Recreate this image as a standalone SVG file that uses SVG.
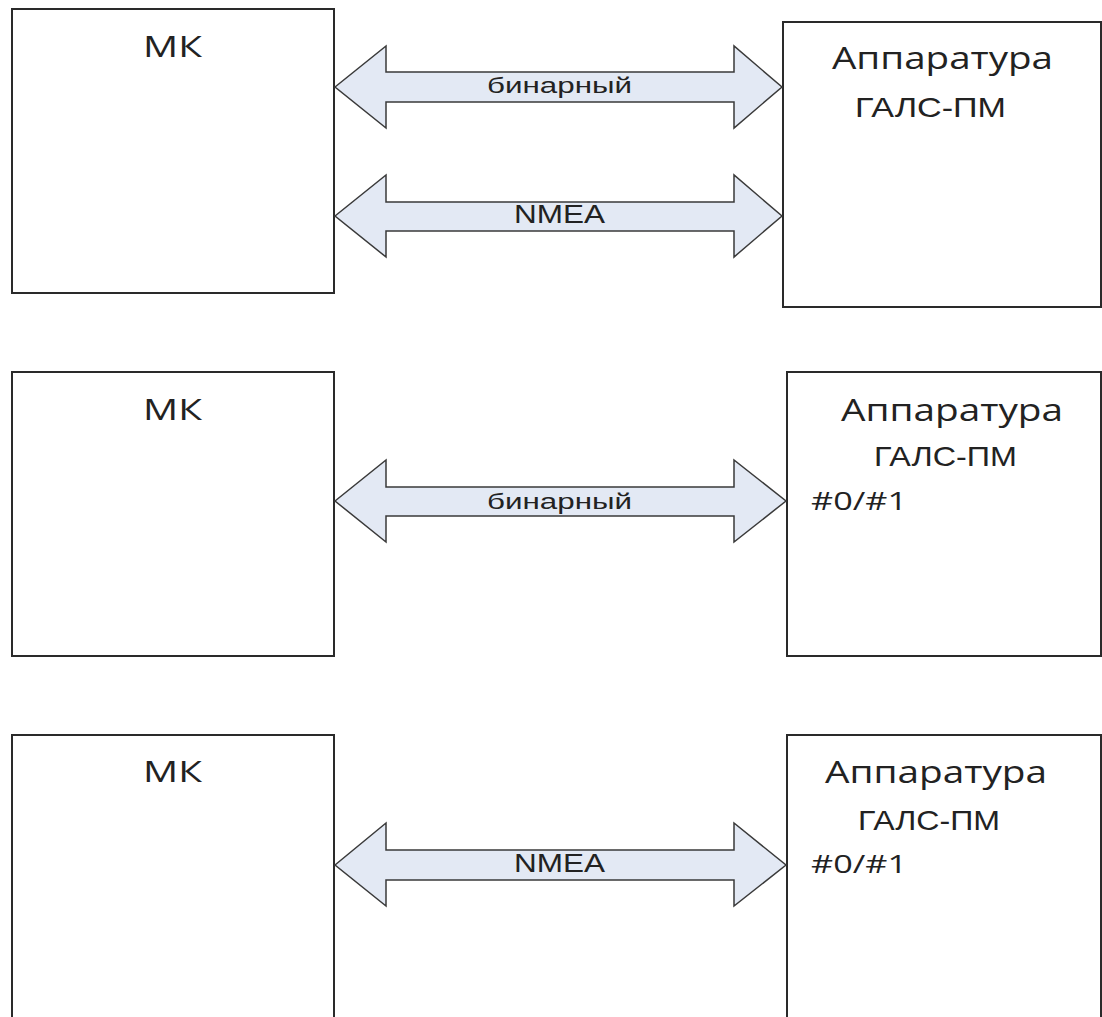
<svg xmlns="http://www.w3.org/2000/svg" width="1102" height="1017" viewBox="0 0 1102 1017">
<style>
.box{fill:#fff;stroke:#2a2a2a;stroke-width:2}
.arr{fill:#e3e9f4;stroke:#3a3a3a;stroke-width:1.5;stroke-linejoin:miter}
.t{fill:#222}
.seg{font-family:"Open Sans","Noto Sans",sans-serif}
.ari{font-family:"Liberation Sans",Arial,sans-serif}
</style>
<rect width="1102" height="1017" fill="#fff"/>
<g id="mk1"><rect class="box" x="12" y="9" width="322" height="284"/><text class="t seg" x="143" y="57" font-size="29" textLength="59" lengthAdjust="spacingAndGlyphs">МК</text></g>
<g id="gals1"><rect class="box" x="783" y="22" width="318" height="285"/><text class="t seg" x="832" y="69" font-size="31" textLength="221" lengthAdjust="spacingAndGlyphs">Аппаратура</text><text class="t ari" x="855" y="117" font-size="28" textLength="151" lengthAdjust="spacingAndGlyphs">ГАЛС-ПМ</text></g>
<g id="mk2"><rect class="box" x="12" y="372" width="322" height="284"/><text class="t seg" x="143" y="420" font-size="29" textLength="59" lengthAdjust="spacingAndGlyphs">МК</text></g>
<g id="gals2"><rect class="box" x="787" y="372" width="314" height="284"/><text class="t seg" x="841" y="421" font-size="31" textLength="222" lengthAdjust="spacingAndGlyphs">Аппаратура</text><text class="t ari" x="874" y="466" font-size="28" textLength="143" lengthAdjust="spacingAndGlyphs">ГАЛС-ПМ</text><text class="t seg" x="811" y="510" font-size="26" textLength="96" lengthAdjust="spacingAndGlyphs">#0/#1</text></g>
<g id="mk3"><rect class="box" x="12" y="735" width="322" height="300"/><text class="t seg" x="143" y="782" font-size="29" textLength="59" lengthAdjust="spacingAndGlyphs">МК</text></g>
<g id="gals3"><rect class="box" x="787" y="735" width="314" height="300"/><text class="t seg" x="825" y="783" font-size="31" textLength="222" lengthAdjust="spacingAndGlyphs">Аппаратура</text><text class="t ari" x="858" y="830" font-size="28" textLength="142" lengthAdjust="spacingAndGlyphs">ГАЛС-ПМ</text><text class="t seg" x="811" y="873" font-size="26" textLength="96" lengthAdjust="spacingAndGlyphs">#0/#1</text></g>
<g id="connectors">
<g id="c1"><path class="arr" d="M335 87 L386 46 L386 72 L734 72 L734 46 L782 87 L734 128 L734 102 L386 102 L386 128 Z"/><text class="t ari" x="487" y="93" font-size="22" textLength="145" lengthAdjust="spacingAndGlyphs">бинарный</text></g>
<g id="c2"><path class="arr" d="M335 216 L386 175 L386 202 L734 202 L734 175 L782 216 L734 257 L734 231 L386 231 L386 257 Z"/><text class="t ari" x="514" y="223" font-size="25" textLength="91" lengthAdjust="spacingAndGlyphs">NMEA</text></g>
<g id="c3"><path class="arr" d="M335 501 L386 460 L386 487 L734 487 L734 460 L786 501 L734 542 L734 516 L386 516 L386 542 Z"/><text class="t ari" x="487" y="509" font-size="22" textLength="145" lengthAdjust="spacingAndGlyphs">бинарный</text></g>
<g id="c4"><path class="arr" d="M335 865 L386 823 L386 850 L734 850 L734 823 L786 865 L734 906 L734 880 L386 880 L386 906 Z"/><text class="t ari" x="514" y="872" font-size="25" textLength="91" lengthAdjust="spacingAndGlyphs">NMEA</text></g>
</g>
</svg>
